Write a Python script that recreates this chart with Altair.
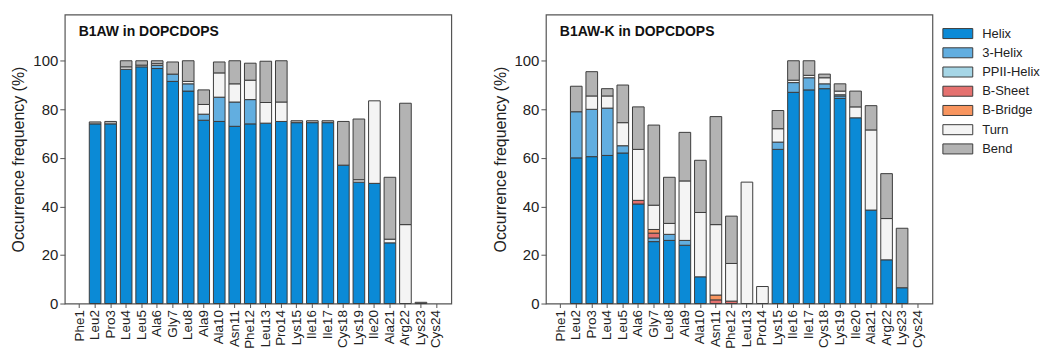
import altair as alt
import pandas as pd

residues = ["Phe1", "Leu2", "Pro3", "Leu4", "Leu5", "Ala6", "Gly7", "Leu8", "Ala9", "Ala10",
            "Asn11", "Phe12", "Leu13", "Pro14", "Lys15", "Ile16", "Ile17", "Cys18", "Lys19",
            "Ile20", "Ala21", "Arg22", "Lys23", "Cys24"]
structures = ["Helix", "3-Helix", "PPII-Helix", "B-Sheet", "B-Bridge", "Turn", "Bend"]
colors = ["#0b8ad6", "#62aee0", "#a6d6e6", "#e5716f", "#f8955f", "#f4f4f4", "#b3b3b3"]

# B1AW in DOPCDOPS
aw_helix = [0, 74, 74, 96.5, 97.5, 96.8, 91.5, 87.5, 75.5, 75, 73, 74, 74.3, 75, 74.5, 74.5, 74.5, 57, 50, 49.5, 25, 0, 0, 0]
aw_3helix = [0, 0, 0, 0, 0, 1.3, 3, 3, 2.5, 10, 10, 10, 0, 0, 0, 0, 0, 0, 0, 0, 0, 0, 0, 0]
aw_ppii = [0] * 24
aw_sheet = [0] * 24
aw_bridge = [0] * 24
aw_turn = [0, 0, 0, 1, 0.7, 0.7, 0, 1, 4, 10, 7.5, 8, 8.5, 8, 0, 0, 0, 0, 1, 34, 1.5, 32.5, 0, 0]
aw_bend = [0, 0.8, 1, 2.5, 1.8, 1.2, 5, 8.5, 6, 4.5, 9.5, 7, 17, 17, 0.8, 0.8, 0.8, 18, 25, 0, 25.5, 50, 0.5, 0]

# B1AW-K in DOPCDOPS
awk_helix = [0, 60, 60.5, 61, 62, 41, 25.5, 26, 24, 11, 0, 0, 0, 0, 63.5, 87, 88, 88.5, 84.5, 76.5, 38.5, 18, 6.5, 0]
awk_3helix = [0, 19, 19.5, 19.5, 3, 0, 1.5, 2.5, 2, 0, 0, 0, 0, 0, 3, 4, 5, 2, 1, 0, 0, 0, 0, 0]
awk_ppii = [0, 0, 0, 0, 0, 0, 0, 0, 0, 0, 0, 0, 0, 0, 0, 0, 0, 0, 0.5, 0, 0, 0, 0, 0]
awk_sheet = [0, 0, 0, 0, 0, 1.5, 2, 0, 0, 0, 1.5, 1, 0, 0, 0, 0, 0, 0, 0, 0, 0, 0, 0, 0]
awk_bridge = [0, 0, 0, 0, 0, 0, 1.5, 0, 0, 0, 2, 0, 0, 0, 0, 0, 0, 0, 0, 0, 0, 0, 0, 0]
awk_turn = [0, 0, 5.5, 5, 9.5, 21, 10, 4.5, 24.5, 26.5, 29, 15.5, 50, 7, 5.5, 1, 1, 2.5, 1.5, 4.5, 33, 17, 0, 0]
awk_bend = [0, 10.5, 10, 3, 15.5, 17.5, 33, 19, 20, 21.5, 44.5, 19.5, 0, 0, 7.5, 8, 6, 1.5, 3, 6.5, 10, 18.5, 24.5, 0]

titles = ["B1AW in DOPCDOPS", "B1AW-K in DOPCDOPS"]
FONT = "Liberation Sans"


def build_df(series):
    rows = []
    for i, (name, vals) in enumerate(zip(structures, series)):
        for r, v in zip(residues, vals):
            if v > 0:
                rows.append({"residue": r, "structure": name, "order": i, "value": v})
    return pd.DataFrame(rows)


def panel(series, title):
    df = build_df(series)
    bars = alt.Chart(df).mark_bar(stroke="#3c3c3c", strokeWidth=1).encode(
        x=alt.X("residue:N", sort=residues,
                scale=alt.Scale(domain=residues, paddingInner=0.25, paddingOuter=0.58),
                axis=alt.Axis(title=None, labelAngle=-90, labelFontSize=13.5, labelPadding=2,
                              tickSize=4, domain=False)),
        y=alt.Y("value:Q", stack="zero",
                scale=alt.Scale(domain=[0, 119], nice=False, zero=True),
                axis=alt.Axis(values=[0, 20, 40, 60, 80, 100], title="Occurrence frequency (%)",
                              titleFontSize=16, titleFontWeight="normal", titlePadding=6,
                              labelFontSize=15, labelPadding=2, tickSize=5, grid=False,
                              domain=False)),
        color=alt.Color("structure:N",
                        scale=alt.Scale(domain=structures, range=colors),
                        legend=alt.Legend(title=None, orient="none", legendX=888.5, legendY=11,
                                          symbolType="M-2,-0.67H2V0.67H-2Z", symbolSize=225,
                                          symbolStrokeColor="#3c3c3c", symbolStrokeWidth=1,
                                          symbolOpacity=1, labelFontSize=13, labelOffset=16.5,
                                          rowPadding=3.3)),
        order=alt.Order("order:Q", sort="ascending"),
    )
    label = alt.Chart(pd.DataFrame({"t": [title]})).mark_text(
        align="left", baseline="middle", fontWeight="bold", fontSize=14, font=FONT, color="#111"
    ).encode(text="t:N", x=alt.value(14), y=alt.value(17))
    return alt.layer(bars, label).properties(width=388, height=290)


chart = alt.hconcat(
    panel([aw_helix, aw_3helix, aw_ppii, aw_sheet, aw_bridge, aw_turn, aw_bend], titles[0]),
    panel([awk_helix, awk_3helix, awk_ppii, awk_sheet, awk_bridge, awk_turn, awk_bend], titles[1]),
    spacing=39,
).properties(
    padding={"left": 2, "top": 5, "right": 0, "bottom": 0}
).configure(font=FONT).configure_view(
    stroke="#555555", strokeWidth=1.2
).configure_axis(
    labelColor="#222", titleColor="#222", tickColor="#555", labelFont=FONT, titleFont=FONT
).configure_legend(labelFont=FONT, labelColor="#222")

chart.save("out.html", embed_options={"renderer": "svg", "actions": False})
